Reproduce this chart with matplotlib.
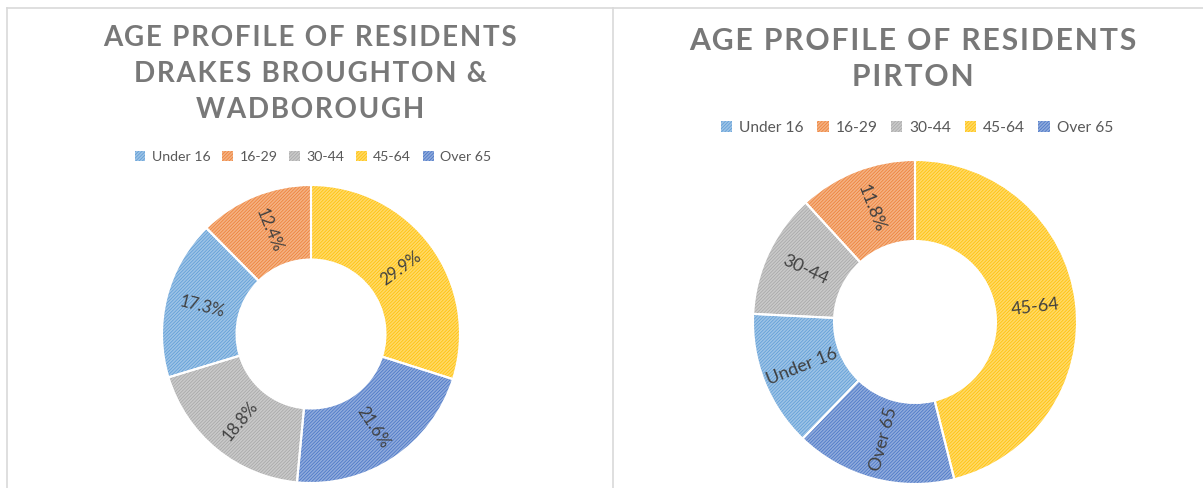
import matplotlib
matplotlib.use("Agg")
import matplotlib.pyplot as plt
from matplotlib.patches import Patch
from matplotlib.lines import Line2D
import numpy as np
import matplotlib.colors as mcolors

# ---------------- data ----------------
legend_categories = ["Under 16", "16-29", "30-44", "45-64", "Over 65"]
category_colors = {"Under 16": "#5B9BD5", "16-29": "#ED7D31", "30-44": "#A5A5A5",
                   "45-64": "#FFC000", "Over 65": "#4472C4"}

left_title = ["AGE PROFILE OF RESIDENTS", "DRAKES BROUGHTON &", "WADBOROUGH"]
left_categories = ["45-64", "Over 65", "30-44", "Under 16", "16-29"]
left_values = [29.9, 21.6, 18.8, 17.3, 12.4]
left_labels = ["29.9%", "21.6%", "18.8%", "17.3%", "12.4%"]

right_title = ["AGE PROFILE OF RESIDENTS", "PIRTON"]
right_categories = ["45-64", "Over 65", "Under 16", "30-44", "16-29"]
right_values = [46.1, 16.1, 13.6, 12.4, 11.8]
right_labels = ["45-64", "Over 65", "Under 16", "30-44", "11.8%"]

# ---------------- style ----------------
plt.rcParams["hatch.linewidth"] = 0.5
TITLE_COLOR = "#787878"
TEXT_COLOR = "#404040"
LEG_COLOR = "#595959"
HATCH = "//////////"
FONT = ["Lato", "DejaVu Sans"]


def light(c, f=0.6):
    r, g, b = mcolors.to_rgb(c)
    return (1 - f * (1 - r), 1 - f * (1 - g), 1 - f * (1 - b))


def spaced(s):
    return "\u200a".join(s)


W, H = 1203, 488
fig = plt.figure(figsize=(W / 100, H / 100), dpi=100)
fig.patch.set_facecolor("white")

# panel borders
border = "#D9D9D9"
fig.add_artist(Line2D([7 / W, 1], [1 - 8 / H, 1 - 8 / H], color=border, lw=1.2))
fig.add_artist(Line2D([7 / W, 7 / W], [0, 1 - 8 / H], color=border, lw=1.2))
fig.add_artist(Line2D([613 / W, 613 / W], [0, 1 - 8 / H], color=border, lw=1.2))


def donut(cx, cy, r, cats, vals, labels, fs):
    ax = fig.add_axes([(cx - r) / W, (H - cy - r) / H, 2 * r / W, 2 * r / H])
    cols = [category_colors[c] for c in cats]
    wedges, _ = ax.pie(vals, startangle=90, counterclock=False,
                       colors=[light(c) for c in cols],
                       wedgeprops=dict(width=0.5, linewidth=0))
    for w, c in zip(wedges, cols):
        w.set_hatch(HATCH)
        w.set_edgecolor(c)
    # white separators
    ax.pie(vals, startangle=90, counterclock=False,
           wedgeprops=dict(width=0.5, fill=False, edgecolor="white", linewidth=1.5))
    for w, lab in zip(wedges, labels):
        mid = (w.theta1 + w.theta2) / 2
        x = 0.75 * np.cos(np.radians(mid))
        y = 0.75 * np.sin(np.radians(mid))
        rot = ((mid + 90) % 180) - 90
        ax.text(x, y, lab, rotation=rot, rotation_mode="anchor",
                ha="center", va="center", fontsize=fs, color=TEXT_COLOR,
                family=FONT)
    ax.set_xlim(-1, 1)
    ax.set_ylim(-1, 1)
    ax.set_aspect("equal")
    ax.axis("off")
    return ax


donut(311, 334, 149, left_categories, left_values, left_labels, 12)
donut(915, 322, 162, right_categories, right_values, right_labels, 13)


def title(xc, ys, lines, fs):
    for y, line in zip(ys, lines):
        fig.text(xc / W, 1 - y / H, spaced(line), ha="center", va="center",
                 fontsize=fs, fontweight="bold", color=TITLE_COLOR, family=FONT)


title(310, [38, 74, 110], left_title, 20)
title(913, [41, 77], right_title, 21.7)

# legends
handles = [Patch(facecolor=light(category_colors[c]), edgecolor=category_colors[c],
                 hatch=HATCH, linewidth=0) for c in legend_categories]
for xc, yc, fs in [(313, 157, 10.2), (917, 128, 11.2)]:
    fig.legend(handles, legend_categories, loc="center", ncol=5,
               bbox_to_anchor=(xc / W, 1 - yc / H), frameon=False,
               handlelength=0.75, handleheight=0.75, handletextpad=0.45,
               columnspacing=0.85, prop={"family": FONT, "size": fs},
               labelcolor=LEG_COLOR)

fig.savefig("out.png", dpi=100)
